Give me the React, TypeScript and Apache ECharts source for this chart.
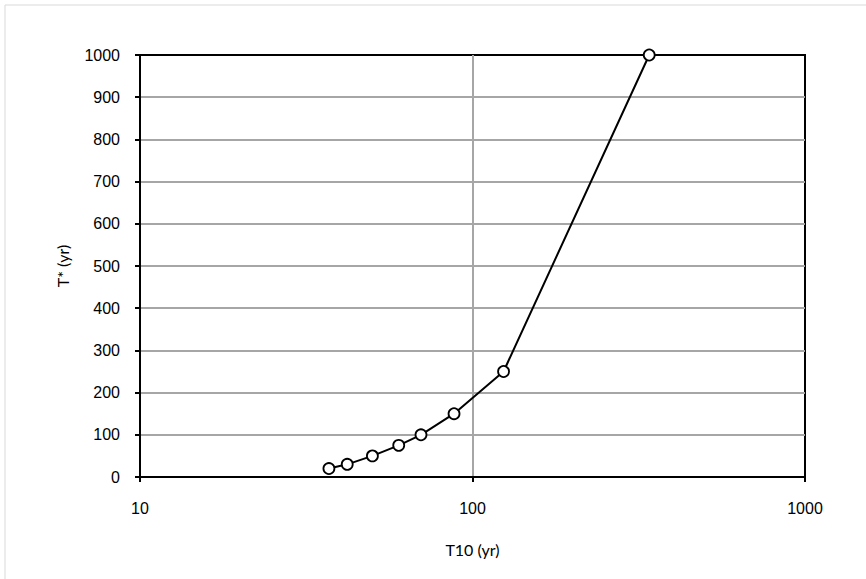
import React, { useEffect, useRef } from "react";
import * as echarts from "echarts";

const t10Values = [37, 42, 50, 60, 70, 88, 124, 340];
const tStarValues = [20, 30, 50, 75, 100, 150, 250, 1000];
const xAxisTitle = "T10 (yr)";
const yAxisTitle = "T* (yr)";

export default function App() {
  const ref = useRef<HTMLDivElement>(null);
  useEffect(() => {
    document.body.style.margin = "0";
    const chart = echarts.init(ref.current!, null, { renderer: "svg" });
    const data = t10Values.map((x, i) => [x, tStarValues[i]]);
    chart.setOption({
      animation: false,
      backgroundColor: "#ffffff",
      graphic: [
        {
          type: "rect",
          shape: { x: 5, y: 5, width: 880, height: 600 },
          style: { fill: "none", stroke: "#d9d9d9", lineWidth: 1 },
          silent: true,
        },
      ],
      grid: {
        left: 140,
        right: 61,
        top: 55,
        bottom: 102,
        show: true,
        borderColor: "#000",
        borderWidth: 2,
      },
      xAxis: {
        type: "log",
        logBase: 10,
        min: 10,
        max: 1000,
        name: xAxisTitle,
        nameLocation: "middle",
        nameGap: 64,
        nameTextStyle: { fontFamily: "Lato", fontSize: 16, color: "#000" },
        axisLine: { show: true, lineStyle: { color: "#000", width: 2 } },
        axisTick: { show: true, length: 5, lineStyle: { color: "#000", width: 2 } },
        minorTick: { show: false },
        axisLabel: {
          fontFamily: "Liberation Sans",
          fontSize: 16,
          color: "#000",
          margin: 23,
          formatter: (v: number) => String(Math.round(v)),
        },
        splitLine: {
          show: true,
          showMinLine: false,
          showMaxLine: false,
          lineStyle: { color: "#a6a6a6", width: 2 },
        },
      },
      yAxis: {
        type: "value",
        min: 0,
        max: 1000,
        interval: 100,
        name: yAxisTitle,
        nameLocation: "middle",
        nameGap: 70,
        nameTextStyle: { fontFamily: "Lato", fontSize: 16, color: "#000" },
        axisLine: { show: true, lineStyle: { color: "#000", width: 2 } },
        axisTick: { show: true, length: 5, lineStyle: { color: "#000", width: 2 } },
        axisLabel: {
          fontFamily: "Liberation Sans",
          fontSize: 16,
          color: "#000",
          margin: 20,
          formatter: (v: number) => String(v),
        },
        splitLine: {
          show: true,
          showMinLine: false,
          showMaxLine: false,
          lineStyle: { color: "#a6a6a6", width: 2 },
        },
      },
      series: [
        {
          type: "line",
          data,
          lineStyle: { color: "#000", width: 2 },
          symbol: "circle",
          symbolSize: 11,
          itemStyle: { color: "#fff", borderColor: "#000", borderWidth: 1.8 },
          z: 5,
        },
      ],
    });
    return () => chart.dispose();
  }, []);
  return <div ref={ref} style={{ width: 866, height: 579 }} />;
}
